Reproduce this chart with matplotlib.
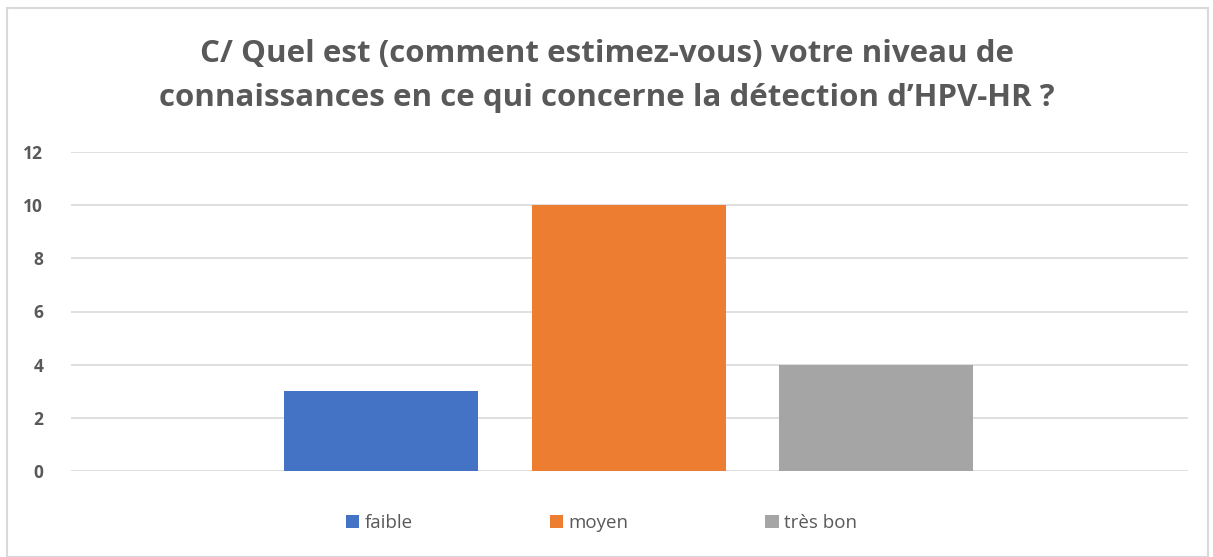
import matplotlib
matplotlib.use('Agg')
import matplotlib.pyplot as plt
from matplotlib.patches import Rectangle

# data
labels = ['faible', 'moyen', 'très bon']
values = [3, 10, 4]
colors = ['#4472C4', '#ED7D31', '#A5A5A5']
yticks = [0, 2, 4, 6, 8, 10, 12]
title = "C/ Quel est (comment estimez-vous) votre niveau de\nconnaissances en ce qui concerne la détection d\u2019HPV-HR ?"

plt.rcParams['font.family'] = ['Open Sans', 'DejaVu Sans']
txt = '#595959'

fig = plt.figure(figsize=(12.13, 5.57), dpi=100)
ax = fig.add_axes([71 / 1213, 86 / 557, 1117 / 1213, 319 / 557])

# chart border
fig.patches.append(Rectangle((7 / 1213, 0), 1201 / 1213, 549 / 557, transform=fig.transFigure,
                             fill=False, edgecolor='#d9d9d9', linewidth=1.5))

for i, (lab, v) in enumerate(zip(labels, values)):
    ax.bar(i, v, width=0.784, color=colors[i], label=lab, zorder=3)

ax.set_xlim(-1.2545, 3.26)
ax.set_ylim(0, 12)
ax.set_yticks(yticks)
ax.set_xticks([])
ax.grid(axis='y', color='#d9d9d9', linewidth=1.2, zorder=0)
for s in ax.spines.values():
    s.set_visible(False)
ax.tick_params(axis='y', length=0, pad=20, labelsize=12.5, labelcolor=txt)
for t in ax.get_yticklabels():
    t.set_fontweight('bold')

fig.text(0.5, 0.863, title, ha='center', va='center', fontsize=22.5, fontweight='bold',
         color=txt, linespacing=1.6)

leg = fig.legend(loc='center', bbox_to_anchor=(0.496, 0.061), ncol=3, frameon=False,
                 fontsize=13.5, handlelength=0.7, handleheight=0.7, handletextpad=0.3,
                 columnspacing=7.3)
for t in leg.get_texts():
    t.set_color(txt)

fig.savefig('out.png', dpi=100)
